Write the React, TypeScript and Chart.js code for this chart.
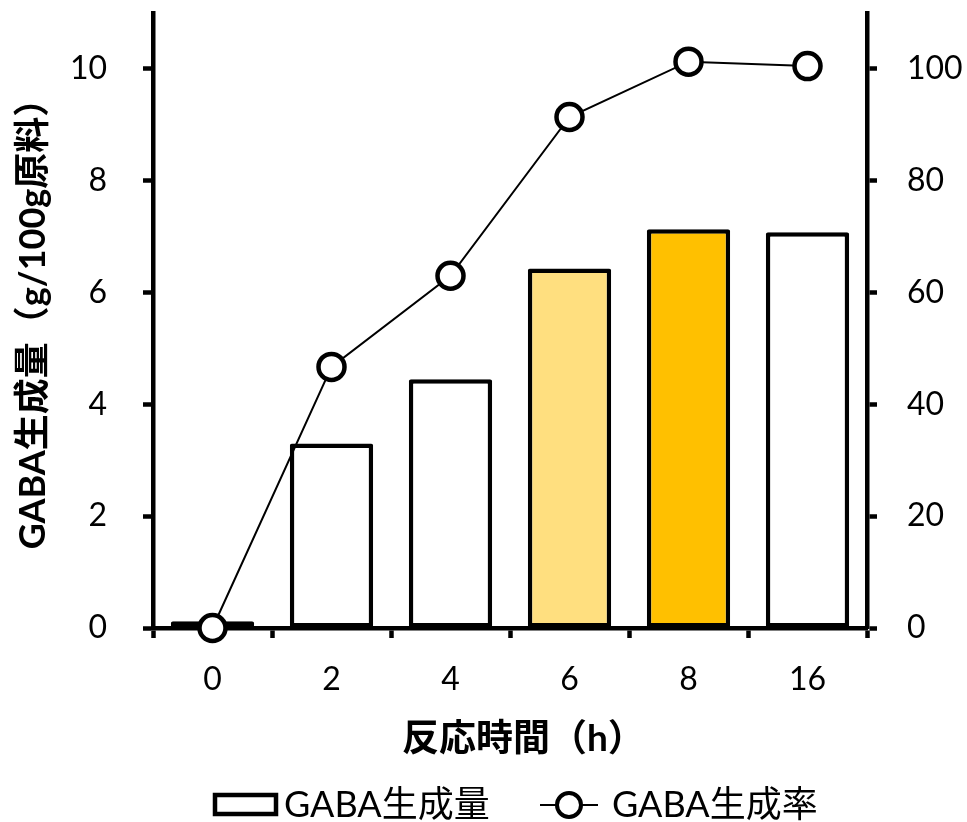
import React, { useEffect, useRef } from 'react';
import { Chart, registerables } from 'chart.js';

Chart.register(...registerables);

// Reaction time categories (h)
const reactionHours = ['0', '2', '4', '6', '8', '16'];
// GABA produced, g per 100 g of raw material (left axis)
const gabaAmount = [0.12, 3.3, 4.45, 6.43, 7.13, 7.08];
// GABA conversion rate, % (right axis)
const gabaRate = [0, 46.7, 63.0, 91.4, 101.3, 100.5];
// Fill of each bar
const barFills = ['#FFFFFF', '#FFFFFF', '#FFFFFF', '#FFDF7F', '#FFC000', '#FFFFFF'];
// Tick values
const amountTicks = [0, 2, 4, 6, 8, 10];
const rateTicks = [0, 20, 40, 60, 80, 100];

const amountLabel = 'GABA生成量';
const rateLabel = 'GABA生成率';
const xTitle = '反応時間（h）';
const yTitle = 'GABA生成量（g/100g原料）';

const FONT = "Lato, 'Noto Sans CJK JP', sans-serif";
const AXIS_W = 4.5;

// Axis titles and the legend under the x-axis title
const axisTextsAndLegend = {
  id: 'axisTextsAndLegend',
  afterDraw(chart: any) {
    const ctx = chart.ctx as CanvasRenderingContext2D;
    const area = chart.chartArea;
    const [bars, line] = chart.data.datasets;
    ctx.save();
    ctx.fillStyle = '#000';

    // y-axis title, rotated
    ctx.save();
    ctx.font = `bold 36px ${FONT}`;
    ctx.textAlign = 'center';
    ctx.textBaseline = 'middle';
    ctx.translate(33, area.top + 302);
    ctx.rotate(-Math.PI / 2);
    ctx.fillText(yTitle, 0, 0);
    ctx.restore();

    // x-axis title
    ctx.textBaseline = 'middle';
    ctx.textAlign = 'left';
    ctx.font = `bold 37px ${FONT}`;
    ctx.fillText(xTitle, area.left + 249, 739);

    // legend
    const cy = 805;
    ctx.font = `36px ${FONT}`;
    ctx.lineWidth = 4.5;
    ctx.strokeStyle = '#000';
    ctx.fillStyle = '#fff';
    ctx.fillRect(215, 795, 61, 19);
    ctx.strokeRect(215, 795, 61, 19);
    ctx.fillStyle = '#000';
    ctx.fillText(bars.label, 284, cy);

    ctx.lineWidth = 2;
    ctx.beginPath();
    ctx.moveTo(540, cy);
    ctx.lineTo(598, cy);
    ctx.stroke();
    ctx.beginPath();
    ctx.arc(569, cy, 12, 0, Math.PI * 2);
    ctx.fillStyle = '#fff';
    ctx.fill();
    ctx.lineWidth = 4;
    ctx.stroke();
    ctx.fillStyle = '#000';
    ctx.fillText(line.label, 612, cy);
    ctx.restore();
  },
};

export default function App() {
  const canvasRef = useRef<HTMLCanvasElement | null>(null);

  useEffect(() => {
    if (!canvasRef.current) return;
    const tickFont = { family: FONT, size: 32 };
    const axisGrid = {
      drawOnChartArea: false,
      drawTicks: true,
      tickLength: 10,
      tickWidth: AXIS_W,
      color: '#000',
    };
    const axisBorder = { display: true, color: '#000', width: AXIS_W };

    const chart = new Chart(canvasRef.current, {
      data: {
        labels: reactionHours,
        datasets: [
          {
            type: 'bar',
            label: amountLabel,
            data: gabaAmount,
            backgroundColor: barFills,
            borderColor: '#000',
            borderWidth: 4.5,
            borderRadius: 2,
            borderSkipped: false,
            barPercentage: 0.7,
            categoryPercentage: 1,
            yAxisID: 'y',
            order: 2,
          },
          {
            type: 'line',
            label: rateLabel,
            data: gabaRate,
            yAxisID: 'y1',
            borderColor: '#000',
            borderWidth: 2,
            pointRadius: 13,
            pointBorderWidth: 4.5,
            pointBackgroundColor: '#fff',
            pointBorderColor: '#000',
            tension: 0,
            clip: false,
            order: 0,
          },
        ] as any,
      },
      options: {
        animation: false,
        responsive: true,
        maintainAspectRatio: false,
        layout: { autoPadding: false, padding: { left: 0, right: 0, top: 13, bottom: 60 } },
        plugins: {
          legend: { display: false },
          tooltip: { enabled: false },
        },
        scales: {
          x: {
            offset: true,
            afterFit: (s: any) => {
              s.height = 134;
              s.paddingLeft = 0;
              s.paddingRight = 0;
            },
            ticks: { font: tickFont, color: '#000', padding: 22 },
            grid: { ...axisGrid, offset: true },
            border: axisBorder,
          },
          y: {
            position: 'left',
            min: 0,
            max: 11,
            afterBuildTicks: (s: any) => {
              s.ticks = amountTicks.map((v) => ({ value: v }));
            },
            afterFit: (s: any) => {
              s.width = 153;
              s.paddingTop = 0;
              s.paddingBottom = 0;
            },
            ticks: { font: tickFont, color: '#000', padding: 36 },
            grid: axisGrid,
            border: axisBorder,
          },
          y1: {
            position: 'right',
            min: 0,
            max: 110,
            afterBuildTicks: (s: any) => {
              s.ticks = rateTicks.map((v) => ({ value: v }));
            },
            afterFit: (s: any) => {
              s.width = 100;
              s.paddingTop = 0;
              s.paddingBottom = 0;
            },
            ticks: { font: tickFont, color: '#000', padding: 30 },
            grid: axisGrid,
            border: axisBorder,
          },
        },
      } as any,
      plugins: [axisTextsAndLegend],
    });
    return () => chart.destroy();
  }, []);

  return (
    <div style={{ position: 'absolute', left: 0, top: 0, width: 967, height: 822, background: '#fff' }}>
      <canvas ref={canvasRef} />
    </div>
  );
}
